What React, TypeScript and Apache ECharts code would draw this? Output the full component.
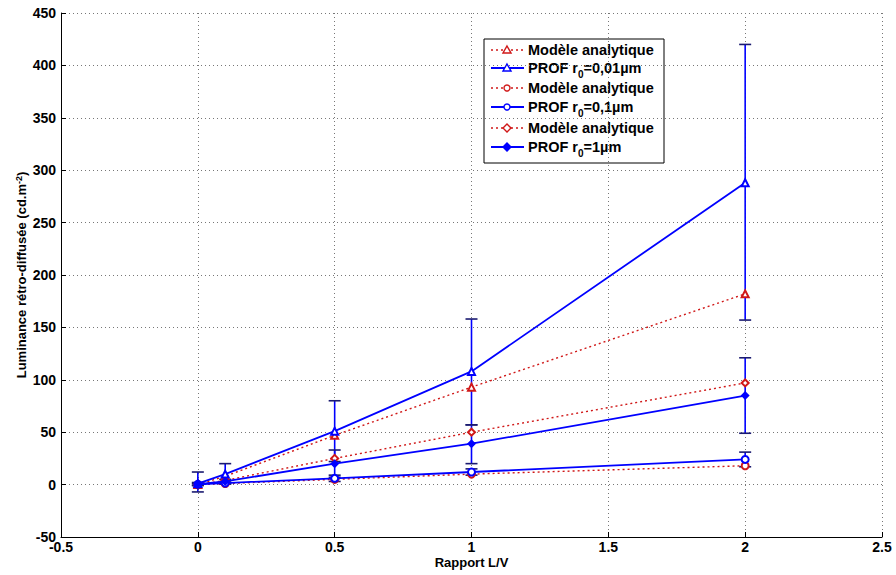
import React, { useEffect, useRef } from "react";
import * as echarts from "echarts";

const X = [0, 0.1, 0.5, 1, 2];
const xTicks = ["-0.5", "0", "0.5", "1", "1.5", "2", "2.5"];

// r0 = 0.01 µm (triangles)
const analytic001 = [0, 8, 47, 93, 182];
const prof001 = [1, 10, 51, 108, 288];
const low001 = [-7, 1, 22, 57, 157];
const high001 = [12, 20, 80, 158, 420];

// r0 = 0.1 µm (circles)
const analytic01 = [0, 1, 5, 10, 18];
const prof01 = [0.3, 1.5, 6, 12, 24];
const low01 = [-0.5, 0.5, 3, 9, 17];
const high01 = [1, 2.5, 9, 15, 31];

// r0 = 1 µm (diamonds)
const analytic1 = [0, 4, 25, 50, 97];
const prof1 = [0.5, 3, 20, 39, 85];
const low1 = [-1, 1, 7, 20, 49];
const high1 = [2, 5, 33, 57, 121];

const BLUE = "#0000ff";
const RED = "#d01818";
const CAP = "#1a1a70";
const FONT = "'Liberation Sans', Arial, sans-serif";

const pts = (ys: number[]) => X.map((x, i) => [x, ys[i]]);
const bars = (lo: number[], hi: number[]) => X.map((x, i) => [x, lo[i], hi[i]]);

function errSeries(lo: number[], hi: number[]) {
  return {
    type: "custom",
    data: bars(lo, hi),
    z: 3,
    silent: true,
    renderItem: (params: any, api: any) => {
      const x = api.value(0);
      const p1 = api.coord([x, api.value(1)]);
      const p2 = api.coord([x, api.value(2)]);
      const w = 6;
      return {
        type: "group",
        children: [
          { type: "line", shape: { x1: p1[0], y1: p1[1], x2: p2[0], y2: p2[1] }, style: { stroke: BLUE, lineWidth: 1.6 } },
          { type: "line", shape: { x1: p1[0] - w, y1: p1[1], x2: p1[0] + w, y2: p1[1] }, style: { stroke: CAP, lineWidth: 1.6 } },
          { type: "line", shape: { x1: p2[0] - w, y1: p2[1], x2: p2[0] + w, y2: p2[1] }, style: { stroke: CAP, lineWidth: 1.6 } },
        ],
      };
    },
  };
}

function analyticSeries(name: string, ys: number[], symbol: string) {
  return {
    name,
    type: "line",
    data: pts(ys),
    symbol,
    symbolSize: 7,
    showAllSymbol: true,
    z: 4,
    lineStyle: { color: RED, width: 1.4, type: [2, 3] },
    itemStyle: { color: RED, borderColor: RED, borderWidth: 1.4 },
  };
}

function profSeries(name: string, ys: number[], symbol: string) {
  return {
    name,
    type: "line",
    data: pts(ys),
    symbol,
    symbolSize: 7,
    z: 5,
    lineStyle: { color: BLUE, width: 1.8 },
    itemStyle: { color: BLUE, borderColor: BLUE, borderWidth: 1.4 },
  };
}

const legendRows = [
  { text: "Modèle analytique", dotted: true, marker: "triangle" },
  { text: "PROF r{sub|0}=0,01µm", dotted: false, marker: "triangle" },
  { text: "Modèle analytique", dotted: true, marker: "circle" },
  { text: "PROF r{sub|0}=0,1µm", dotted: false, marker: "circle" },
  { text: "Modèle analytique", dotted: true, marker: "diamond" },
  { text: "PROF r{sub|0}=1µm", dotted: false, marker: "diamond" },
];
const legendY = [50, 68, 88, 107, 128, 147];

function markerEl(kind: string, cx: number, cy: number, color: string, filled: boolean) {
  const style = { fill: filled ? color : "#fff", stroke: color, lineWidth: 1.4 };
  if (kind === "triangle") {
    return { type: "polygon", shape: { points: [[cx, cy - 4], [cx + 4, cy + 3], [cx - 4, cy + 3]] }, style };
  }
  if (kind === "circle") {
    return { type: "circle", shape: { cx, cy, r: 3 }, style };
  }
  return { type: "polygon", shape: { points: [[cx, cy - 4], [cx + 4, cy], [cx, cy + 4], [cx - 4, cy]] }, style };
}

function buildLegend() {
  const children: any[] = [
    { type: "rect", shape: { x: 484, y: 39, width: 180, height: 124 }, style: { fill: "#fff", stroke: "#000", lineWidth: 1 } },
  ];
  legendRows.forEach((r, i) => {
    const y = legendY[i];
    const color = r.dotted ? RED : BLUE;
    children.push({
      type: "line",
      shape: { x1: 491, y1: y, x2: 524, y2: y },
      style: { stroke: color, lineWidth: r.dotted ? 1.4 : 1.8, lineDash: r.dotted ? [2, 3] : null },
    });
    children.push(markerEl(r.marker, 507, y, color, !r.dotted && r.marker === "diamond"));
    children.push({
      type: "text",
      x: 528,
      y,
      style: {
        text: r.text,
        fill: "#000",
        fontWeight: "bold",
        fontSize: 14.5,
        fontFamily: FONT,
        verticalAlign: "middle",
        rich: {
          sub: { fontSize: 10, fontWeight: "bold", fontFamily: FONT, verticalAlign: "bottom", lineHeight: 22, padding: [10, 0, 0, 0] },
        },
      },
    });
  });
  return children;
}

export default function App() {
  const ref = useRef<HTMLDivElement>(null);
  useEffect(() => {
    if (!ref.current) return;
    const chart = echarts.init(ref.current, null, { renderer: "svg" });
    chart.setOption({
      animation: false,
      backgroundColor: "#fff",
      grid: {
        left: 61,
        right: 14,
        top: 13,
        bottom: 38,
        containLabel: false,
        outerBoundsMode: "none",
      },
      xAxis: {
        type: "value",
        min: -0.5,
        max: 2.5,
        interval: 0.5,
        name: "Rapport L/V",
        nameLocation: "middle",
        nameGap: 25,
        nameMoveOverlap: false,
        nameTextStyle: { fontFamily: FONT, fontWeight: "bold", fontSize: 13, color: "#000", verticalAlign: "middle" },
        axisLine: { onZero: false, lineStyle: { color: "#000", width: 1 } },
        axisTick: { inside: true, length: 5, lineStyle: { color: "#000" } },
        axisLabel: {
          fontFamily: FONT,
          fontWeight: "bold",
          fontSize: 14,
          color: "#000",
          margin: 3,
          formatter: (v: number) => xTicks[Math.round((v + 0.5) / 0.5)] ?? String(v),
        },
        splitLine: { show: true, lineStyle: { color: "#777", type: [1, 3], width: 1 } },
      },
      yAxis: {
        type: "value",
        min: -50,
        max: 450,
        interval: 50,
        name: "Luminance rétro-diffusée (cd.m{sup|-2})",
        nameLocation: "middle",
        nameGap: 32,
        nameMoveOverlap: false,
        nameRotate: 90,
        nameTextStyle: {
          fontFamily: FONT,
          fontWeight: "bold",
          fontSize: 13,
          color: "#000",
          rich: { sup: { fontFamily: FONT, fontWeight: "bold", fontSize: 9, verticalAlign: "top", padding: [0, 0, 6, 0] } },
        },
        axisLine: { show: true, onZero: false, lineStyle: { color: "#000", width: 1 } },
        axisTick: { show: true, inside: true, length: 5, lineStyle: { color: "#000" } },
        axisLabel: { fontFamily: FONT, fontWeight: "bold", fontSize: 14, color: "#000", margin: 5, lineHeight: 12 },
        splitLine: { show: true, lineStyle: { color: "#777", type: [1, 3], width: 1 } },
      },
      series: [
        errSeries(low001, high001),
        errSeries(low01, high01),
        errSeries(low1, high1),
        analyticSeries("Modèle analytique 0.01", analytic001, "emptyTriangle"),
        profSeries("PROF 0.01", prof001, "emptyTriangle"),
        analyticSeries("Modèle analytique 0.1", analytic01, "emptyCircle"),
        profSeries("PROF 0.1", prof01, "emptyCircle"),
        analyticSeries("Modèle analytique 1", analytic1, "emptyDiamond"),
        profSeries("PROF 1", prof1, "diamond"),
      ],
      graphic: buildLegend(),
    });
    return () => chart.dispose();
  }, []);
  return <div ref={ref} style={{ position: "absolute", left: 0, top: 0, width: 896, height: 575 }} />;
}
